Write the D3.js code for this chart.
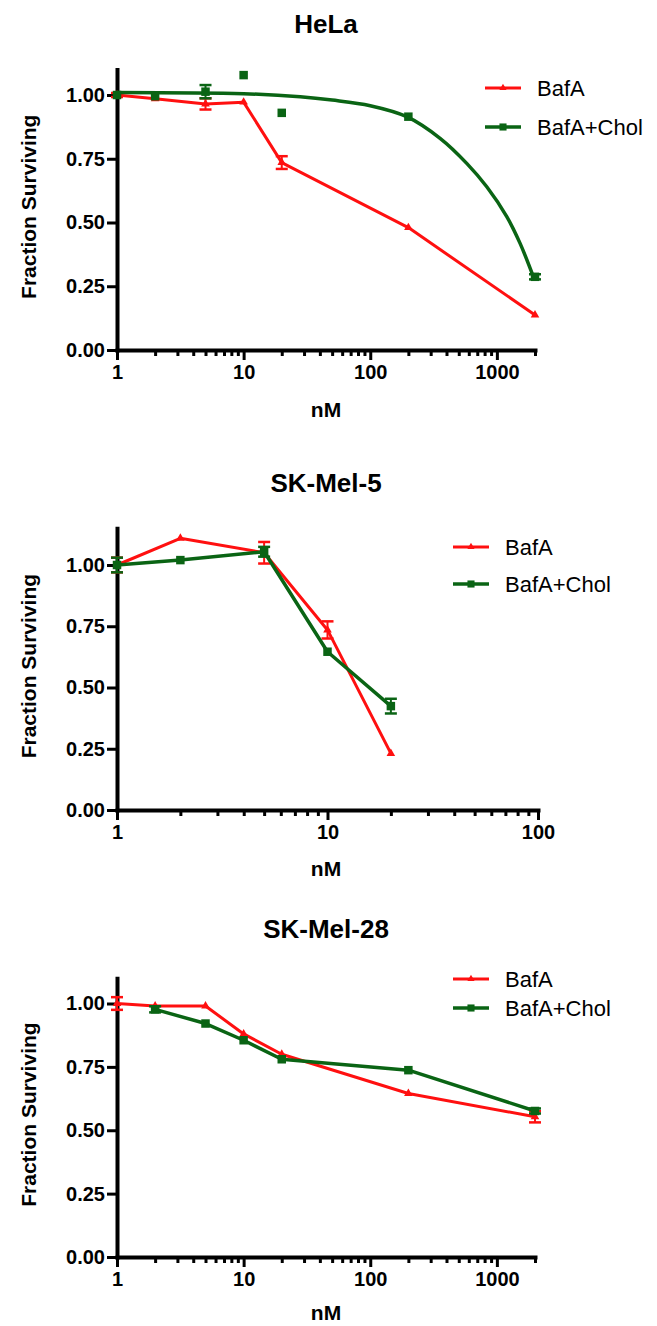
<!DOCTYPE html>
<html>
<head>
<meta charset="utf-8">
<script src="https://cdn.jsdelivr.net/npm/d3@7"></script>
<style>
  body { margin: 0; background: #fff; }
  svg text { font-family: "Liberation Sans", Arial, sans-serif; fill: #000; }
</style>
</head>
<body>
<div id="chart"></div>
<script>
// ---- data ----
const seriesNames = ["BafA", "BafA+Chol"];
const yTicks = [0, 0.25, 0.5, 0.75, 1.0];

// HeLa
const helaDose = [1, 2, 5, 10, 20, 200, 2000];
const helaBafA = [1.0, 0.985, 0.965, 0.972, 0.735, 0.48, 0.137];
const helaBafAErr = [0.008, 0, 0.022, 0, 0.025, 0, 0];
const helaChol = [1.0, 0.995, 1.013, 1.078, 0.93, 0.915, 0.287];
const helaCholErr = [0, 0, 0.026, 0, 0, 0, 0.01];
// fitted curve drawn for BafA+Chol
const helaFitDose = [1, 10, 28, 50, 100, 194, 356, 578, 832, 1197, 1525, 1942];
const helaFit = [1.01, 1.005, 0.993, 0.98, 0.958, 0.915, 0.83, 0.732, 0.64, 0.523, 0.418, 0.287];

// SK-Mel-5
const mel5Dose = [1, 2, 5, 10, 20];
const mel5BafA = [1.0, 1.109, 1.05, 0.735, 0.231];
const mel5BafAErr = [0.03, 0, 0.044, 0.035, 0];
const mel5Chol = [1.0, 1.02, 1.054, 0.646, 0.424];
const mel5CholErr = [0.03, 0, 0.02, 0, 0.03];

// SK-Mel-28
const mel28BafADose = [1, 2, 5, 10, 20, 200, 2000];
const mel28BafA = [1.0, 0.99, 0.99, 0.88, 0.8, 0.645, 0.553];
const mel28BafAErr = [0.025, 0, 0, 0, 0, 0, 0.022];
const mel28CholDose = [2, 5, 10, 20, 200, 2000];
const mel28Chol = [0.977, 0.921, 0.855, 0.78, 0.737, 0.576];
const mel28CholErr = [0.012, 0, 0, 0, 0, 0.01];

const RED = "#ff1010";
const GREEN = "#0a6414";

var svg = d3.select("#chart").append("svg")
  .attr("width", 657)
  .attr("height", 1326);

function zip(xs, ys, es) {
  return xs.map(function(d, i) {
    return { x: d, y: ys[i], e: es ? es[i] : 0 };
  });
}

function drawPanel(p) {
  var g = svg.append("g");
  var x = d3.scaleLog().domain(p.xDomain).range([117, p.xRight]);
  var y = d3.scaleLinear().domain([0, p.yMax]).range([p.yBottom, p.yBottom - p.yMax * p.yUnit]);

  // title
  g.append("text")
    .attr("x", 326).attr("y", p.titleY)
    .attr("text-anchor", "middle")
    .style("font-size", "26px").style("font-weight", "bold")
    .text(p.title);

  // y axis
  var yAxis = g.append("g")
    .attr("transform", "translate(117,0)")
    .call(d3.axisLeft(y).tickValues(yTicks).tickFormat(d3.format(".2f")).tickSize(10).tickPadding(2).tickSizeOuter(0));
  yAxis.select(".domain").attr("stroke-width", 4).attr("stroke-linecap", "square");
  yAxis.selectAll(".tick line").attr("stroke-width", 3);
  yAxis.selectAll("text").style("font-size", "20px").style("font-weight", "bold").attr("font-family", null);

  // x axis: major + minor ticks
  var majors = p.majors;
  var minors = [];
  for (var dec = 1; dec < p.xDomain[1]; dec *= 10) {
    for (var k = 2; k <= 9; k++) {
      if (dec * k <= p.xDomain[1]) minors.push(dec * k);
    }
  }
  var xAxis = g.append("g")
    .attr("transform", "translate(0," + p.yBottom + ")")
    .call(d3.axisBottom(x).tickValues(majors).tickFormat(d3.format("d")).tickSize(10).tickPadding(5).tickSizeOuter(0));
  xAxis.select(".domain").attr("stroke-width", 4).attr("stroke-linecap", "square");
  xAxis.selectAll(".tick line").attr("stroke-width", 3);
  xAxis.selectAll("text").style("font-size", "20px").style("font-weight", "bold").attr("font-family", null);

  var xMinor = g.append("g")
    .attr("transform", "translate(0," + p.yBottom + ")")
    .call(d3.axisBottom(x).tickValues(minors).tickFormat("").tickSize(6).tickSizeOuter(0));
  xMinor.select(".domain").remove();
  xMinor.selectAll(".tick line").attr("stroke-width", 3);

  // axis labels
  g.append("text")
    .attr("x", 326).attr("y", p.yBottom + p.nmOffset)
    .attr("text-anchor", "middle")
    .style("font-size", "21px").style("font-weight", "bold")
    .text("nM");

  g.append("text")
    .attr("transform", "rotate(-90)")
    .attr("x", -(p.yBottom - p.yMax * p.yUnit / 2) + 3)
    .attr("y", 36)
    .attr("text-anchor", "middle")
    .style("font-size", "21px").style("font-weight", "bold")
    .text("Fraction Surviving");

  var line = d3.line().x(function(d) { return x(d.x); }).y(function(d) { return y(d.y); });

  p.series.forEach(function(s) {
    var pts = zip(s.dose, s.vals, s.errs);

    if (s.fit) {
      g.append("path")
        .datum(zip(s.fit.dose, s.fit.vals))
        .attr("fill", "none")
        .attr("stroke", s.color)
        .attr("stroke-width", 3.5)
        .attr("d", d3.line().curve(d3.curveCatmullRom).x(function(d) { return x(d.x); }).y(function(d) { return y(d.y); }));
    } else {
      g.append("path")
        .datum(pts)
        .attr("fill", "none")
        .attr("stroke", s.color)
        .attr("stroke-width", s.width)
        .attr("stroke-linejoin", "round")
        .attr("d", line);
    }

    // error bars
    pts.filter(function(d) { return d.e > 0; }).forEach(function(d) {
      var cx = x(d.x);
      g.append("line")
        .attr("x1", cx).attr("x2", cx)
        .attr("y1", y(d.y + d.e)).attr("y2", y(d.y - d.e))
        .attr("stroke", s.color).attr("stroke-width", 2);
      [d.y + d.e, d.y - d.e].forEach(function(v) {
        g.append("line")
          .attr("x1", cx - 6).attr("x2", cx + 6)
          .attr("y1", y(v)).attr("y2", y(v))
          .attr("stroke", s.color).attr("stroke-width", 2.5);
      });
    });

    g.append("g").selectAll("path")
      .data(pts)
      .enter()
      .append("path")
      .attr("transform", function(d) { return "translate(" + x(d.x) + "," + y(d.y) + ")"; })
      .attr("d", d3.symbol().type(s.symbol).size(s.symbolSize))
      .attr("fill", s.color);
  });

  // legend
  p.series.forEach(function(s, i) {
    var ly = p.legend.y[i];
    g.append("line")
      .attr("x1", p.legend.x).attr("x2", p.legend.x + 36)
      .attr("y1", ly).attr("y2", ly)
      .attr("stroke", s.color).attr("stroke-width", s.width);
    g.append("path")
      .attr("transform", "translate(" + (p.legend.x + 18) + "," + ly + ")")
      .attr("d", d3.symbol().type(s.symbol).size(s.symbolSize * 0.7))
      .attr("fill", s.color);
    g.append("text")
      .attr("x", p.legend.x + 52).attr("y", ly)
      .attr("dy", "0.36em")
      .style("font-size", "22px")
      .text(seriesNames[i]);
  });
}

function bafa(dose, vals, errs) {
  return { dose: dose, vals: vals, errs: errs, color: RED, width: 3, symbol: d3.symbolTriangle, symbolSize: 32 };
}
function chol(dose, vals, errs, fit) {
  return { dose: dose, vals: vals, errs: errs, color: GREEN, width: 3.5, symbol: d3.symbolSquare, symbolSize: 72, fit: fit };
}

drawPanel({
  title: "HeLa", titleY: 33,
  xDomain: [1, 2000], xRight: 535, majors: [1, 10, 100, 1000],
  yBottom: 350, yMax: 1.1, yUnit: 255, nmOffset: 67,
  legend: { x: 485, y: [88, 127] },
  series: [
    bafa(helaDose, helaBafA, helaBafAErr),
    chol(helaDose, helaChol, helaCholErr, { dose: helaFitDose, vals: helaFit })
  ]
});

drawPanel({
  title: "SK-Mel-5", titleY: 492,
  xDomain: [1, 100], xRight: 538, majors: [1, 10, 100],
  yBottom: 810, yMax: 1.15, yUnit: 245, nmOffset: 66,
  legend: { x: 453, y: [547, 584] },
  series: [
    bafa(mel5Dose, mel5BafA, mel5BafAErr),
    chol(mel5Dose, mel5Chol, mel5CholErr)
  ]
});

drawPanel({
  title: "SK-Mel-28", titleY: 938,
  xDomain: [1, 2000], xRight: 535, majors: [1, 10, 100, 1000],
  yBottom: 1257, yMax: 1.1, yUnit: 253.5, nmOffset: 63,
  legend: { x: 453, y: [979, 1008] },
  series: [
    bafa(mel28BafADose, mel28BafA, mel28BafAErr),
    chol(mel28CholDose, mel28Chol, mel28CholErr)
  ]
});
</script>
</body>
</html>
